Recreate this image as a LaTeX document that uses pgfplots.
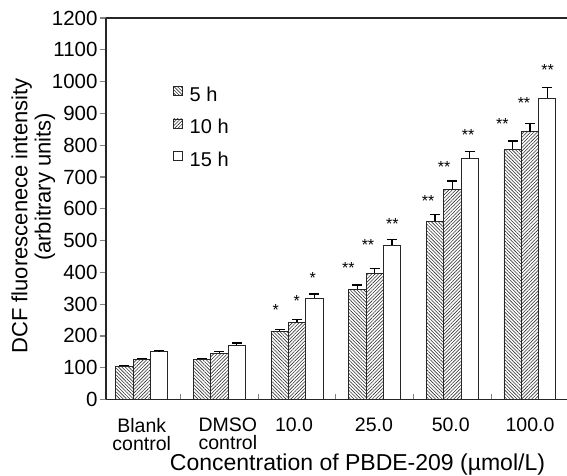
\documentclass[border=0pt]{standalone}
\usepackage{fontspec}
\setmainfont{Liberation Sans}
\usepackage{pgfplots}
\pgfplotsset{compat=1.18}
\usetikzlibrary{patterns.meta}
\newcommand\sig[3]{\node[anchor=base, yshift=-9.8pt, inner sep=0pt, font=\fontsize{16}{16}\selectfont] at (axis cs:#1,#2) {#3};}
\pgfplotsset{
  errb/.style={error bars/.cd, y dir=plus, y explicit,
    error bar style={line width=1.2pt, black},
    error mark options={line width=1.2pt, mark size=5pt, black, rotate=90}},
}
\begin{document}
\begin{tikzpicture}
\begin{axis}[
  scale only axis, width=461pt, height=381.5pt,
  xmin=-0.46, xmax=5.477, ymin=0, ymax=1200,
  axis x line*=box, axis y line*=left,
  x axis line style={-, line width=1.3pt, black!85},
  y axis line style={-, line width=1.3pt, black!85},
  tick align=outside, major tick length=6pt, minor tick length=5pt,
  xtick pos=lower, ytick pos=lower,
  ytick={0,100,...,1200},
  /pgf/number format/assume math mode=true,
  /pgf/number format/1000 sep={},
  yticklabel style={font=\fontsize{20.5}{20.5}\selectfont, xshift=1pt},
  xtick={0,1.11,1.961,2.99,3.98,5.0},
  xticklabels={{Blank\\control},{DMSO\\control},10.0,25.0,50.0,100.0},
  xticklabel style={align=center, font=\fontsize{19.5}{18}\selectfont, inner sep=0pt, yshift=-12.5pt},
  major x tick style={draw=none},
  minor xtick={0.5,1.5,2.5,3.5,4.5},
  minor x tick style={yshift=5pt, line width=1.2pt},
  major y tick style={line width=1.2pt},
  legend style={draw=none, fill=none, at={(rel axis cs:0.145,0.823)}, anchor=north west,
    font=\fontsize{20}{20}\selectfont, row sep=16pt, column sep=7pt, inner sep=0pt,
    nodes={inner sep=0pt}},
  legend cell align=left,
  legend image code/.code={\draw[#1, line width=0.7pt] (0pt,-0.5pt) rectangle (9pt,8.5pt);},
]
\addplot[ybar, bar width=0.223, bar shift=0, draw=black!85, line width=0.9pt,
  pattern={Lines[angle=-45,distance=2.4pt,line width=0.6pt]}, pattern color=black!80, errb]
coordinates {(-0.223,105) +- (0,3) (0.777,127) +- (0,2) (1.777,214) +- (0,7) (2.777,347) +- (0,13) (3.777,560) +- (0,22) (4.777,787) +- (0,26)};
\addplot[ybar, bar width=0.223, bar shift=0, draw=black!85, line width=0.9pt,
  pattern={Lines[angle=45,distance=2.4pt,line width=0.6pt]}, pattern color=black!80, errb]
coordinates {(0,127) +- (0,3) (1,145) +- (0,7) (2,243) +- (0,9) (3,397) +- (0,16) (4,662) +- (0,25) (5,842) +- (0,27)};
\addplot[ybar, bar width=0.223, bar shift=0, draw=black!85, line width=0.9pt, fill=white, errb]
coordinates {(0.223,152) +- (0,2) (1.223,170) +- (0,8) (2.223,318) +- (0,14) (3.223,485) +- (0,19) (4.223,757) +- (0,22) (5.223,947) +- (0,35)};
\legend{5 h, 10 h, 15 h}
\sig{1.726}{295}{*}
\sig{1.996}{323}{*}
\sig{2.202}{397}{*}
\sig{2.661}{426}{**}
\sig{2.914}{498}{**}
\sig{3.227}{564}{**}
\sig{3.687}{638}{**}
\sig{3.893}{745}{**}
\sig{4.202}{844}{**}
\sig{4.644}{881}{**}
\sig{4.923}{947}{**}
\sig{5.226}{1050}{**}
\coordinate (O) at (rel axis cs:0,0);
\end{axis}
\node[rotate=90, font=\fontsize{22}{22}\selectfont] at ([xshift=-84.3pt, yshift=183.5pt]O) {DCF fluorescenece intensity};
\node[rotate=90, font=\fontsize{22}{22}\selectfont] at ([xshift=-61pt, yshift=212.5pt]O) {(arbitrary units)};
\node[anchor=base, font=\fontsize{23}{23}\selectfont, inner sep=0pt] at ([xshift=251.5pt, yshift=-70.5pt]O) {Concentration of PBDE-209 (µmol/L)};
\pgfresetboundingbox
\useasboundingbox ([xshift=-106pt, yshift=-76.5pt]O) rectangle ([xshift=461pt, yshift=399.5pt]O);
\end{tikzpicture}
\end{document}
